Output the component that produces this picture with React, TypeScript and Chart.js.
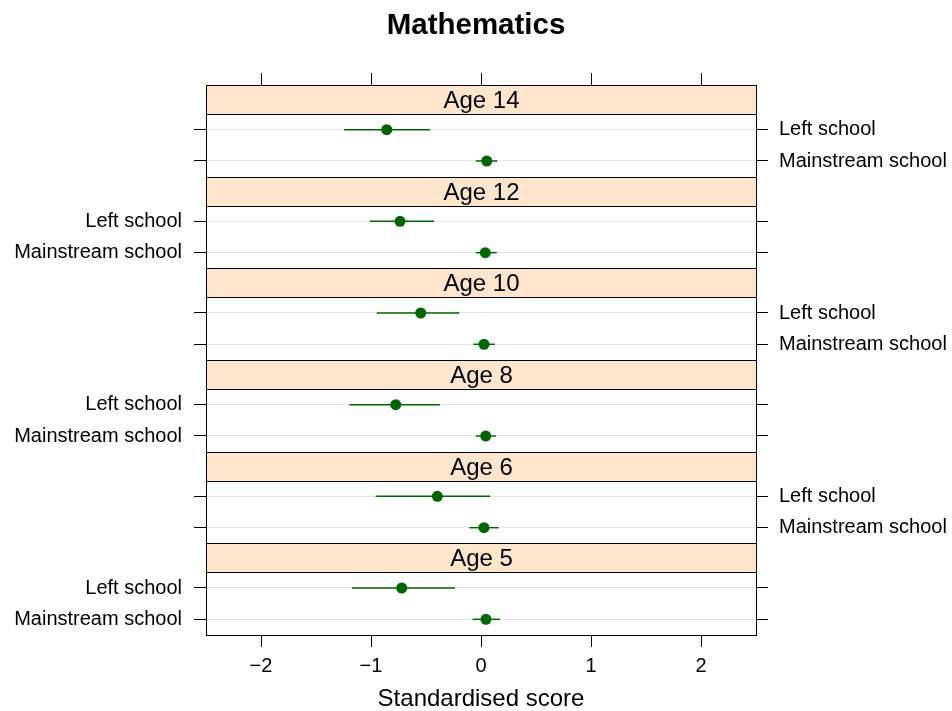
import React, { useEffect, useRef } from 'react';
import { Chart, registerables } from 'chart.js';

Chart.register(...registerables);

const FONT = '"Liberation Sans", Arial, Helvetica, sans-serif';

// Panels from top to bottom
const panels = ['Age 14', 'Age 12', 'Age 10', 'Age 8', 'Age 6', 'Age 5'];
const groups = ['Left school', 'Mainstream school'];
const labelSide = ['right', 'left', 'right', 'left', 'right', 'left'];

// Left school: estimate and 95% interval
const leftMean = [-0.857, -0.736, -0.548, -0.775, -0.397, -0.721];
const leftLo = [-1.245, -1.009, -0.948, -1.197, -0.957, -1.173];
const leftHi = [-0.464, -0.427, -0.197, -0.373, 0.082, -0.237];

// Mainstream school: estimate and 95% interval
const mainMean = [0.052, 0.039, 0.027, 0.043, 0.027, 0.045];
const mainLo = [-0.048, -0.048, -0.070, -0.048, -0.106, -0.075];
const mainHi = [0.148, 0.143, 0.125, 0.136, 0.161, 0.173];

const xTicks = [-2, -1, 0, 1, 2];
const X_MIN = -2.5;
const X_MAX = 2.5;

const STRIP = 0.925;
const BLOCK = 2 + STRIP;
const TOTAL = BLOCK * panels.length;
const rowPos = (k: number, g: number) => k * BLOCK + STRIP + 0.5 + g;

const GREEN = '#006400';

const stripPlugin = {
  id: 'strips',
  beforeDatasetsDraw(chart: any) {
    const { ctx, chartArea } = chart;
    const y = chart.scales.y;
    const l = Math.round(chartArea.left) + 0.5;
    const r = Math.round(chartArea.right) + 0.5;
    panels.forEach((p, k) => {
      const t = Math.round(y.getPixelForValue(k * BLOCK)) + 0.5;
      const b = Math.round(y.getPixelForValue(k * BLOCK + STRIP)) + 0.5;
      ctx.save();
      ctx.fillStyle = '#FFE5CC';
      ctx.fillRect(l, t, r - l, b - t);
      ctx.strokeStyle = '#000';
      ctx.lineWidth = 1;
      ctx.strokeRect(l, t, r - l, b - t);
      ctx.fillStyle = '#000';
      ctx.font = `24px ${FONT}`;
      ctx.textAlign = 'center';
      ctx.textBaseline = 'middle';
      ctx.fillText(p, (l + r) / 2, (t + b) / 2 + 1);
      ctx.restore();
    });
  },
};

const yTickList = () => {
  const out: { value: number }[] = [];
  panels.forEach((_, k) => groups.forEach((__, g) => out.push({ value: rowPos(k, g) })));
  return out;
};

export default function App() {
  const ref = useRef<HTMLCanvasElement | null>(null);

  useEffect(() => {
    if (!ref.current) return;
    Chart.defaults.font.family = FONT;
    Chart.defaults.color = '#000';

    const barSets: any[] = [];
    panels.forEach((_, k) => {
      barSets.push({
        type: 'line',
        data: [
          { x: leftLo[k], y: rowPos(k, 0) },
          { x: leftHi[k], y: rowPos(k, 0) },
        ],
        borderColor: GREEN,
        borderWidth: 1.5,
        pointRadius: 0,
        order: 2,
      });
      barSets.push({
        type: 'line',
        data: [
          { x: mainLo[k], y: rowPos(k, 1) },
          { x: mainHi[k], y: rowPos(k, 1) },
        ],
        borderColor: GREEN,
        borderWidth: 1.5,
        pointRadius: 0,
        order: 2,
      });
    });

    const points: any[] = [];
    panels.forEach((_, k) => {
      points.push({ x: leftMean[k], y: rowPos(k, 0) });
      points.push({ x: mainMean[k], y: rowPos(k, 1) });
    });

    const yBase = (side: string) => ({
      type: 'linear',
      position: side,
      reverse: true,
      min: 0,
      max: TOTAL,
      afterBuildTicks: (s: any) => {
        s.ticks = yTickList();
      },
      afterFit: (s: any) => {
        s.width = side === 'left' ? 206 : 196;
      },
      grid: {
        drawOnChartArea: side === 'left',
        color: '#e6e6e6',
        tickColor: '#000',
        tickLength: 12,
        lineWidth: 1,
      },
      border: { display: true, color: '#000', width: 1 },
      ticks: {
        autoSkip: false,
        padding: side === 'left' ? 12 : 11,
        font: { size: 20 },
        color: '#000',
        callback: (_v: any, i: number) => {
          const k = Math.floor(i / 2);
          const g = i % 2;
          return labelSide[k] === side ? groups[g] : '';
        },
      },
    });

    const chart = new Chart(ref.current, {
      type: 'scatter',
      data: {
        datasets: [
          {
            type: 'scatter',
            data: points,
            backgroundColor: GREEN,
            borderColor: GREEN,
            pointRadius: 5.5,
            pointBorderWidth: 0,
            order: 0,
          },
          ...barSets,
        ],
      },
      options: {
        responsive: false,
        animation: false,
        devicePixelRatio: 1,
        layout: { padding: 0 },
        plugins: {
          legend: { display: false },
          tooltip: { enabled: false },
          title: {
            display: true,
            text: 'Mathematics',
            color: '#000',
            font: { size: 29.5, weight: 'bold', lineHeight: 1 },
            padding: { top: 11, bottom: 0 },
          },
        },
        scales: {
          x: {
            type: 'linear',
            position: 'bottom',
            min: X_MIN,
            max: X_MAX,
            afterBuildTicks: (s: any) => {
              s.ticks = xTicks.map((v) => ({ value: v }));
            },
            afterFit: (s: any) => {
              s.height = 76;
            },
            grid: { drawOnChartArea: false, tickColor: '#000', tickLength: 12 },
            border: { display: true, color: '#000', width: 1 },
            ticks: {
              padding: 7,
              font: { size: 20 },
              color: '#000',
              maxRotation: 0,
              callback: (v: any) => (v < 0 ? '\u2212' + Math.abs(v) : String(v)),
            },
            title: {
              display: true,
              text: 'Standardised score',
              color: '#000',
              font: { size: 24, lineHeight: 1 },
              padding: { top: 0, bottom: 0 },
            },
          },
          x2: {
            type: 'linear',
            position: 'top',
            min: X_MIN,
            max: X_MAX,
            afterBuildTicks: (s: any) => {
              s.ticks = xTicks.map((v) => ({ value: v }));
            },
            afterFit: (s: any) => {
              s.height = 44.5;
            },
            grid: { drawOnChartArea: false, tickColor: '#000', tickLength: 12 },
            border: { display: true, color: '#000', width: 1 },
            ticks: {
              font: { size: 20 },
              callback: () => '',
            },
          },
          y: yBase('left'),
          y2: yBase('right'),
        },
      } as any,
      plugins: [stripPlugin],
    } as any);

    return () => chart.destroy();
  }, []);

  return (
    <div style={{ position: 'fixed', left: 0, top: 0, width: 952, height: 711, background: '#fff' }}>
      <canvas ref={ref} width={952} height={711} style={{ display: 'block' }} />
    </div>
  );
}
